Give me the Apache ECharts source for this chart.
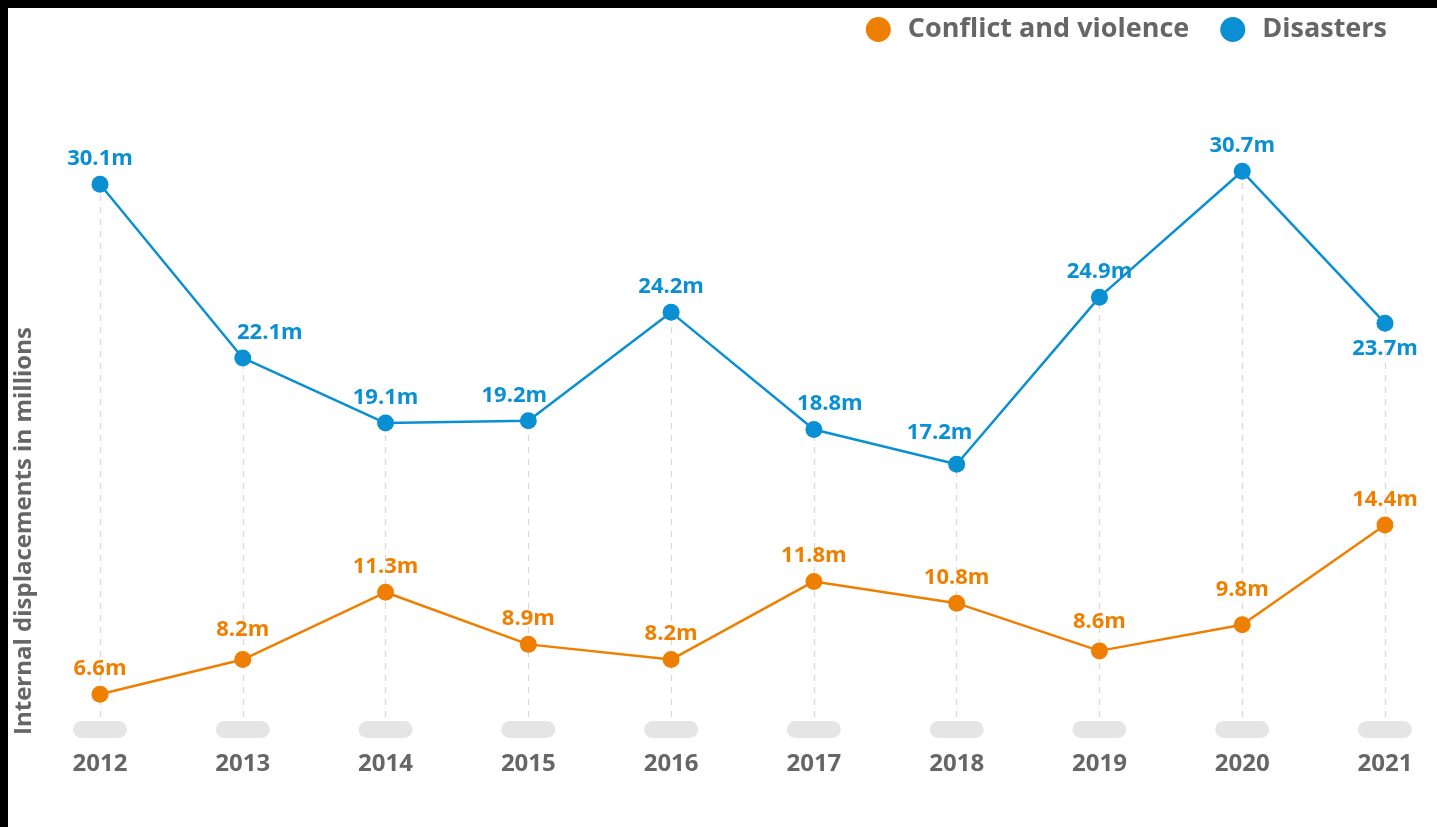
<!DOCTYPE html>
<html>
<head>
<meta charset="utf-8">
<script src="https://cdn.jsdelivr.net/npm/echarts@6/dist/echarts.min.js"></script>
<style>
html,body{margin:0;padding:0;background:#fff;}
#chart{position:absolute;left:0;top:0;width:1437px;height:827px;}
.bar{position:absolute;background:#000;z-index:5;}
</style>
</head>
<body>
<div id="chart"></div>
<div class="bar" style="left:0;top:0;width:1437px;height:8px;"></div>
<div class="bar" style="left:0;top:0;width:8px;height:827px;"></div>
<script>
const years = ['2012','2013','2014','2015','2016','2017','2018','2019','2020','2021'];
const conflict = [6.6, 8.2, 11.3, 8.9, 8.2, 11.8, 10.8, 8.6, 9.8, 14.4];
const disasters = [30.1, 22.1, 19.1, 19.2, 24.2, 18.8, 17.2, 24.9, 30.7, 23.7];
const yMin = 5, yMax = 35;

const BLUE = '#0a90d2';
const ORANGE = '#ef7f00';
const GREY = '#666666';
const FONT = '"Open Sans"';

// label placement tweaks (style only)
const blueLabelTweaks = {1:{offset:[27,0]},3:{offset:[-14,0]},5:{offset:[16,0]},6:{offset:[-17,-6]},9:{position:'bottom'}};
const orangeLabelTweaks = {1:{offset:[0,-4]},7:{offset:[0,-4]},8:{offset:[0,-10]}};

const chart = echarts.init(document.getElementById('chart'));
const labelBase = {show:true, position:'top', distance:6, fontFamily:FONT, fontWeight:'bold', fontSize:22,
  formatter: p => p.value + 'm'};

function withTweaks(arr, tweaks){
  return arr.map((v,i)=>{
    const t = tweaks[i];
    return t ? {value:v, label:Object.assign({}, t)} : v;
  });
}

chart.setOption({
  animation:false,
  grid:{left:100, right:52, top:78, bottom:98},
  legend:{
    right:45, top:11, itemWidth:25, itemHeight:25, itemGap:31, icon:'circle',
    textStyle:{color:GREY, fontFamily:FONT, fontWeight:'bold', fontSize:27, padding:[0,0,0,12]},
    data:['Conflict and violence','Disasters']
  },
  xAxis:{
    type:'category', data:years, boundaryGap:false, z:3,
    axisLine:{show:false}, axisTick:{show:false}, splitLine:{show:false},
    axisLabel:{
      margin:-8, interval:0,
      formatter: v => '{p| }\n{y|' + v + '}',
      rich:{
        p:{width:54, height:17, backgroundColor:'#e5e5e5', borderRadius:8.5, lineHeight:17},
        y:{color:GREY, fontFamily:FONT, fontWeight:'bold', fontSize:24, lineHeight:52}
      }
    }
  },
  yAxis:{type:'value', min:yMin, max:yMax, show:false, splitLine:{show:false}},
  graphic:[{
    type:'text', x:24, y:735, rotation:Math.PI/2,
    style:{text:'Internal displacements in millions', fill:GREY, font:'bold 24px "Open Sans"', textAlign:'left', textVerticalAlign:'middle'}
  }],
  series:[
    {
      name:'Disasters', type:'line', data:withTweaks(disasters, blueLabelTweaks),
      symbol:'circle', symbolSize:17, z:2,
      lineStyle:{color:BLUE, width:2.5}, itemStyle:{color:BLUE},
      label:Object.assign({}, labelBase, {color:BLUE}),
      markLine:{
        silent:true, symbol:'none', z:1, label:{show:false},
        lineStyle:{color:'#d9d9d9', type:[6,6], width:1.3},
        data: disasters.map((v,i)=>[{coord:[i, yMin]}, {coord:[i, v]}])
      }
    },
    {
      name:'Conflict and violence', type:'line', data:withTweaks(conflict, orangeLabelTweaks),
      symbol:'circle', symbolSize:17, z:4,
      lineStyle:{color:ORANGE, width:2.5}, itemStyle:{color:ORANGE},
      label:Object.assign({}, labelBase, {color:ORANGE})
    }
  ]
});
</script>
</body>
</html>
